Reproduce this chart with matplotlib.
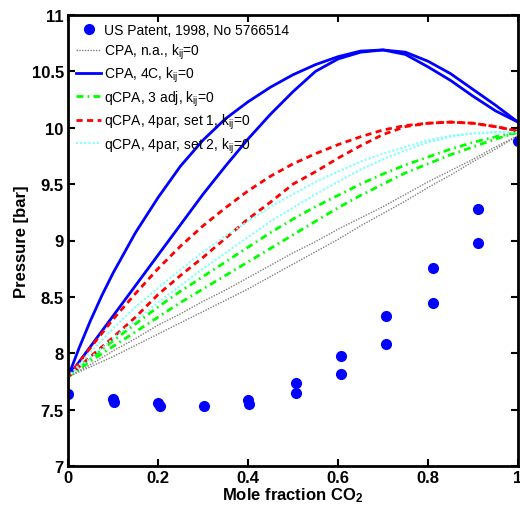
import matplotlib
matplotlib.use("Agg")
import matplotlib.pyplot as plt

plt.rcParams['font.family'] = ['Liberation Sans', 'DejaVu Sans']
plt.rcParams['mathtext.fontset'] = 'custom'
plt.rcParams['mathtext.rm'] = 'Liberation Sans'
plt.rcParams['mathtext.it'] = 'Liberation Sans'
plt.rcParams['mathtext.bf'] = 'Liberation Sans:bold'

# Experimental data
exp_x = [0.0, 0.1, 0.103, 0.2, 0.204, 0.302, 0.4, 0.403, 0.507, 0.507,
         0.607, 0.607, 0.707, 0.707, 0.81, 0.81, 0.91, 0.91, 1.0]
exp_p = [7.64, 7.59, 7.565, 7.56, 7.53, 7.535, 7.585, 7.55, 7.74, 7.65,
         7.98, 7.82, 8.33, 8.08, 8.76, 8.45, 9.28, 8.98, 9.88]

# Model curves (composition grid and pressures)
xg = [0.0, 0.05, 0.1, 0.15, 0.2, 0.25, 0.3, 0.35, 0.4, 0.45, 0.5,
      0.55, 0.6, 0.65, 0.7, 0.75, 0.8, 0.85, 0.9, 0.95, 1.0]
xg_blue = [0.0, 0.025, 0.05, 0.075, 0.1, 0.15, 0.2, 0.25, 0.3, 0.35, 0.4, 0.45, 0.5,
           0.55, 0.6, 0.65, 0.7, 0.75, 0.8, 0.85, 0.9, 0.95, 1.0]

cpa_na_up = [7.79, 7.90, 8.02, 8.13, 8.25, 8.35, 8.46, 8.56, 8.67, 8.78, 8.89,
             8.99, 9.10, 9.20, 9.30, 9.41, 9.52, 9.62, 9.72, 9.83, 9.93]
cpa_na_lo = [7.79, 7.88, 7.97, 8.07, 8.17, 8.27, 8.37, 8.47, 8.57, 8.68, 8.79,
             8.90, 9.01, 9.13, 9.24, 9.35, 9.47, 9.58, 9.70, 9.81, 9.93]

cpa_4c_up = [7.79, 8.05, 8.29, 8.51, 8.71, 9.07, 9.38, 9.66, 9.89, 10.08, 10.23, 10.36, 10.47,
             10.56, 10.63, 10.68, 10.69, 10.67, 10.59, 10.48, 10.34, 10.20, 10.05]
cpa_4c_lo = [7.79, 7.925, 8.06, 8.195, 8.33, 8.60, 8.87, 9.14, 9.41, 9.66, 9.90, 10.12, 10.32,
             10.50, 10.61, 10.67, 10.69, 10.65, 10.54, 10.42, 10.28, 10.15, 10.05]

qcpa_3_up = [7.79, 7.95, 8.11, 8.26, 8.41, 8.55, 8.68, 8.81, 8.94, 9.07, 9.19,
             9.30, 9.40, 9.50, 9.59, 9.67, 9.74, 9.81, 9.87, 9.92, 9.96]
qcpa_3_lo = [7.79, 7.93, 8.06, 8.19, 8.32, 8.45, 8.57, 8.69, 8.81, 8.93, 9.05,
             9.17, 9.29, 9.40, 9.50, 9.60, 9.68, 9.76, 9.83, 9.90, 9.96]

qcpa_s1_up = [7.79, 8.05, 8.30, 8.53, 8.75, 8.95, 9.13, 9.29, 9.44, 9.57, 9.68,
              9.77, 9.85, 9.92, 9.98, 10.02, 10.04, 10.05, 10.04, 10.01, 9.97]
qcpa_s1_lo = [7.79, 7.97, 8.14, 8.32, 8.52, 8.69, 8.85, 9.02, 9.19, 9.34, 9.50,
              9.61, 9.73, 9.84, 9.94, 10.01, 10.04, 10.05, 10.04, 10.01, 9.97]

qcpa_s2_up = [7.79, 8.01, 8.22, 8.41, 8.58, 8.74, 8.90, 9.04, 9.17, 9.30, 9.41,
              9.52, 9.61, 9.70, 9.77, 9.83, 9.89, 9.93, 9.95, 9.96, 9.96]
qcpa_s2_lo = [7.79, 7.96, 8.13, 8.29, 8.45, 8.60, 8.75, 8.89, 9.03, 9.17, 9.29,
              9.41, 9.52, 9.63, 9.72, 9.80, 9.87, 9.92, 9.95, 9.96, 9.96]

labels = ['US Patent, 1998, No 5766514',
          'CPA, n.a., k$_{ij}$=0',
          'CPA, 4C, k$_{ij}$=0',
          'qCPA, 3 adj, k$_{ij}$=0',
          'qCPA, 4par, set 1, k$_{ij}$=0',
          'qCPA, 4par, set 2, k$_{ij}$=0']

fig = plt.figure(figsize=(5.2, 5.1), dpi=100)
ax = fig.add_axes([68/520, 1-467/510, 450/520, 451/510])

h0, = ax.plot(exp_x, exp_p, 'o', color='#0000ff', ms=7, mec='#0000ff', ls='none')
gray = '#808080'
h1, = ax.plot(xg, cpa_na_up, ls=(0, (1, 1)), color=gray, lw=1.0)
ax.plot(xg, cpa_na_lo, ls=(0, (1, 1)), color=gray, lw=1.0)
h2, = ax.plot(xg_blue, cpa_4c_up, ls='-', color='#0000ff', lw=2.0)
ax.plot(xg_blue, cpa_4c_lo, ls='-', color='#0000ff', lw=2.0)
h3, = ax.plot(xg, qcpa_3_up, ls=(0, (2.5, 1.5, 0.6, 1.5)), color='#00ff00', lw=2.0)
ax.plot(xg, qcpa_3_lo, ls=(0, (2.5, 1.5, 0.6, 1.5)), color='#00ff00', lw=2.0)
h4, = ax.plot(xg, qcpa_s1_up, ls=(0, (2.2, 1.6)), color='#ff0000', lw=2.0)
ax.plot(xg, qcpa_s1_lo, ls=(0, (2.2, 1.6)), color='#ff0000', lw=2.0)
cyan = '#80ffff'
h5, = ax.plot(xg, qcpa_s2_up, ls=(0, (1, 1)), color=cyan, lw=1.5)
ax.plot(xg, qcpa_s2_lo, ls=(0, (1, 1)), color=cyan, lw=1.5)

ax.set_xlim(0, 1)
ax.set_ylim(7, 11)
ax.set_xticks([0, 0.2, 0.4, 0.6, 0.8, 1])
ax.set_xticklabels(['0', '0.2', '0.4', '0.6', '0.8', '1'])
ax.set_yticks([7, 7.5, 8, 8.5, 9, 9.5, 10, 10.5, 11])
ax.set_yticklabels(['7', '7.5', '8', '8.5', '9', '9.5', '10', '10.5', '11'])
ax.tick_params(direction='in', top=True, right=True, length=5, width=1.5,
               labelsize=12, pad=3)
for lab in ax.get_xticklabels() + ax.get_yticklabels():
    lab.set_fontweight('bold')
for s in ax.spines.values():
    s.set_linewidth(2)
ax.set_xlabel('Mole fraction CO$_\\mathbf{2}$', fontsize=12, fontweight='bold', labelpad=0)
ax.set_ylabel('Pressure [bar]', fontsize=12, fontweight='bold', labelpad=2)

leg = ax.legend([h0, h1, h2, h3, h4, h5], labels, loc='upper left', frameon=False,
                fontsize=10, handlelength=1.8, handletextpad=0.2,
                labelspacing=0.3, borderaxespad=0.3, borderpad=0.3)

fig.savefig('out.png', dpi=100)
